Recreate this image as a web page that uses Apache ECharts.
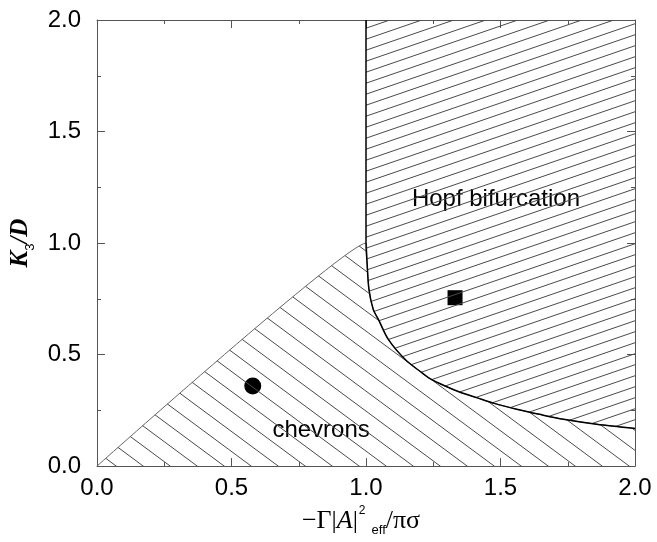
<!DOCTYPE html>
<html>
<head>
<meta charset="utf-8">
<script src="https://cdn.jsdelivr.net/npm/echarts@6/dist/echarts.min.js"></script>
<style>
html,body{margin:0;padding:0;background:#fff;}
#container{width:657px;height:542px;}
</style>
</head>
<body>
<div id="container"></div>
<script>
// phase boundaries
var diagX = [0, 1];
var diagY = [0, 1];
var curveX = [1.000, 1.004, 1.011, 1.027, 1.046, 1.083, 1.145, 1.207, 1.238, 1.294, 1.350, 1.411, 1.480, 1.560, 1.645, 1.734, 1.857, 2.000];
var curveY = [1.000, 0.911, 0.792, 0.702, 0.658, 0.568, 0.479, 0.419, 0.392, 0.359, 0.331, 0.307, 0.280, 0.255, 0.232, 0.210, 0.188, 0.169];
var topY = 2;
// marked points
var circlePt = [0.579, 0.359];
var squarePt = [1.331, 0.755];
// region names
var labels = [
	{ name: 'Hopf bifurcation', x: 1.483, y: 1.195 },
	{ name: 'chevrons', x: 0.833, y: 0.158 }
];

// hatch fill: one line across a w*h tile, dir 1 = "\" , -1 = "/"
function hatch(w, h, dir) {
	var c = document.createElement('canvas');
	c.width = w; c.height = h;
	var g = c.getContext('2d');
	g.strokeStyle = '#4a4a4a';
	g.lineWidth = 1;
	for (var k = -1; k <= 1; k++) {
		g.beginPath();
		if (dir > 0) {
			g.moveTo(k * w - w, -h);
			g.lineTo(k * w + 2 * w, 2 * h);
		} else {
			g.moveTo(k * w - w, 2 * h);
			g.lineTo(k * w + 2 * w, -h);
		}
		g.stroke();
	}
	return { image: c, repeat: 'repeat' };
}

var chevData = [];
for (var i = 0; i < diagX.length; i++) chevData.push([diagX[i], diagY[i]]);
for (var i = 1; i < curveX.length; i++) chevData.push([curveX[i], curveY[i]]);
var hopfData = [[curveX[0], topY]];
for (var i = 0; i < curveX.length; i++) hopfData.push([curveX[i], curveY[i]]);

var axisCol = '#555';
function xAx(pos, lab) {
	return {
		type: 'value', min: 0, max: 2, interval: 0.5, position: pos,
		axisLine: { onZero: false, lineStyle: { color: axisCol, width: 1 } },
		axisTick: { inside: true, length: 8, lineStyle: { color: axisCol } },
		minorTick: { show: true, splitNumber: 2, length: 4, lineStyle: { color: axisCol } },
		splitLine: { show: false },
		axisLabel: { show: lab, fontSize: 24, color: '#000', fontFamily: 'Liberation Sans', margin: 10,
			formatter: function (v) { return v.toFixed(1); } }
	};
}
function yAx(pos, lab) {
	var a = xAx(pos, lab);
	a.axisLabel.margin = 16;
	return a;
}

var xa = xAx('bottom', true);
xa.name = '{a|\u2212\u0393|}{i|A}{a||}{sup|2}{sub|eff}{a|/\u03c0\u03c3}';
xa.nameLocation = 'middle';
xa.nameGap = 34;
xa.nameTextStyle = {
	color: '#000',
	padding: [0, 10, 0, 0],
	rich: {
		a: { fontFamily: 'Liberation Serif', fontSize: 26, color: '#000', verticalAlign: 'middle', lineHeight: 32 },
		i: { fontFamily: 'Liberation Serif', fontStyle: 'italic', fontSize: 26, color: '#000', verticalAlign: 'middle', lineHeight: 32 },
		sup: { fontFamily: 'Liberation Sans', fontSize: 12, color: '#000', verticalAlign: 'top', lineHeight: 32, padding: [0, 6, 0, 1] },
		sub: { fontFamily: 'Liberation Sans', fontSize: 13, color: '#000', verticalAlign: 'bottom', lineHeight: 32 }
	}
};
var ya = yAx('left', true);
ya.name = '{k|K}{s|3}{d|/D}';
ya.nameLocation = 'middle';
ya.nameRotate = 90;
ya.nameGap = 52;
ya.nameTextStyle = {
	color: '#000',
	rich: {
		k: { fontFamily: 'Liberation Serif', fontStyle: 'italic', fontWeight: 'bold', fontSize: 25, color: '#000', verticalAlign: 'middle', lineHeight: 32 },
		s: { fontFamily: 'Liberation Sans', fontSize: 13, color: '#000', verticalAlign: 'bottom', lineHeight: 32 },
		d: { fontFamily: 'Liberation Serif', fontStyle: 'italic', fontWeight: 'bold', fontSize: 25, color: '#000', verticalAlign: 'middle', lineHeight: 32 }
	}
};

var chart = echarts.init(document.getElementById('container'));
var option = {
	animation: false,
	backgroundColor: '#fff',
	grid: { left: 97, right: 22, top: 20, bottom: 75 },
	xAxis: [xa, xAx('top', false)],
	yAxis: [ya, yAx('right', false)],
	series: [
		{
			type: 'line', data: chevData, symbol: 'none', smooth: 0.3,
			lineStyle: { color: '#666', width: 1 },
			areaStyle: { color: hatch(27, 20, 1), opacity: 1, origin: 'start' }
		},
		{
			type: 'line', data: hopfData, symbol: 'none', smooth: 0.3,
			lineStyle: { color: '#000', width: 1.5 },
			areaStyle: { color: hatch(32, 11, -1), opacity: 1, origin: 'end' }
		},
		{
			type: 'scatter', data: [circlePt], symbol: 'circle', symbolSize: 17,
			itemStyle: { color: '#000', opacity: 1 }
		},
		{
			type: 'scatter', data: [squarePt], symbol: 'rect', symbolSize: 15,
			itemStyle: { color: '#000', opacity: 1 }
		},
		{
			type: 'scatter', symbolSize: 1, itemStyle: { color: '#fff', opacity: 1 },
			data: labels.map(function (d) { return { name: d.name, value: [d.x, d.y] }; }),
			label: {
				show: true, position: 'inside', formatter: '{b}',
				fontSize: 24, fontFamily: 'Liberation Sans', color: '#000', opacity: 1,
				backgroundColor: '#fff', padding: [3, 3]
			}
		}
	]
};
chart.setOption(option);
window.addEventListener('resize', function () {
	chart.resize();
});
</script>
</body>
</html>
